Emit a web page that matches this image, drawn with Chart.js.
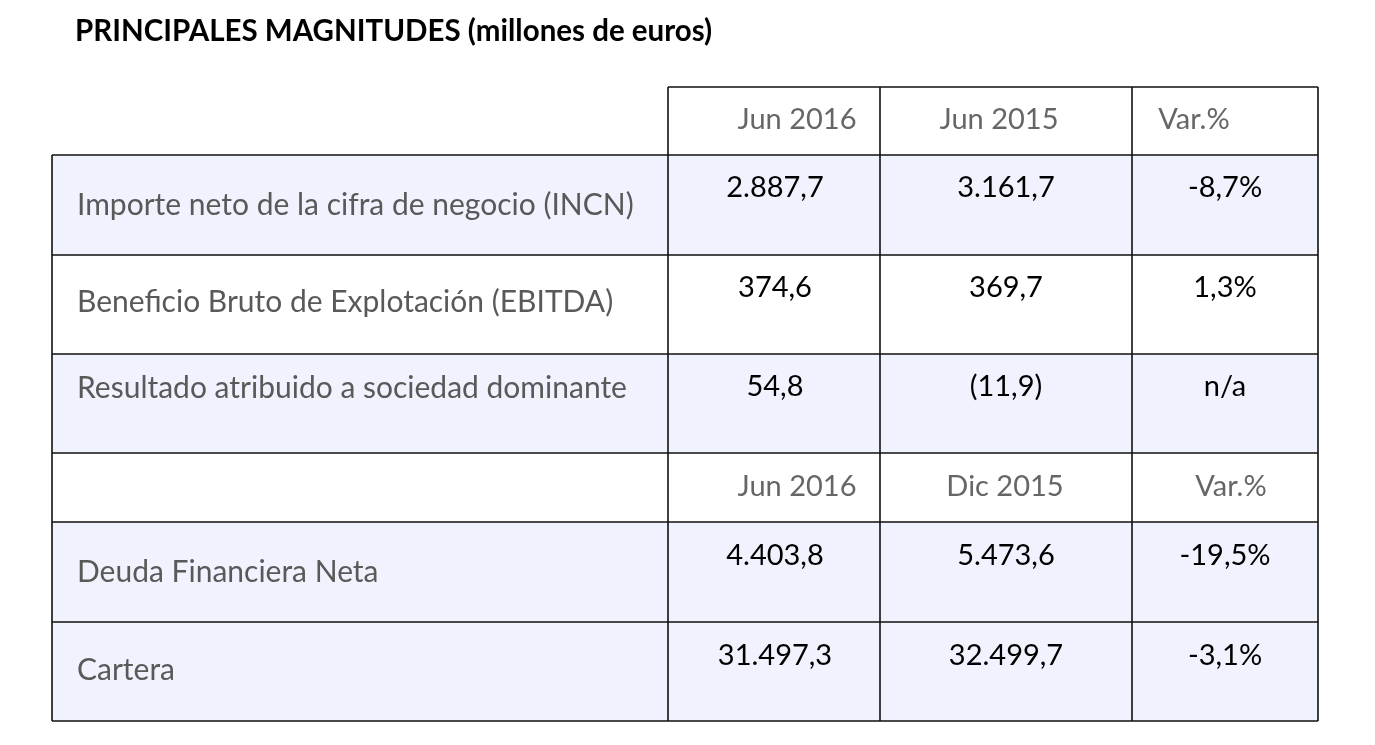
<!DOCTYPE html>
<html lang="es">
<head>
<meta charset="utf-8">
<title>Principales magnitudes</title>
<script src="https://cdn.jsdelivr.net/npm/chart.js@4"></script>
<style>
    html, body { margin: 0; padding: 0; background: #ffffff; }
    canvas { display: block; }
</style>
</head>
<body>
<canvas id="tabla" width="1375" height="745"></canvas>
<script>
// Datos de la tabla (millones de euros)
const title = 'PRINCIPALES MAGNITUDES (millones de euros)';

const headersResultados = ['Jun 2016', 'Jun 2015', 'Var.%'];
const labelsResultados = [
    'Importe neto de la cifra de negocio (INCN)',
    'Beneficio Bruto de Explotación (EBITDA)',
    'Resultado atribuido a sociedad dominante'
];
const actualResultados = [2887.7, 374.6, 54.8];
const anteriorResultados = [3161.7, 369.7, -11.9];
const varResultados = [-8.7, 1.3, null];

const headersBalance = ['Jun 2016', 'Dic 2015', 'Var.%'];
const labelsBalance = ['Deuda Financiera Neta', 'Cartera'];
const actualBalance = [4403.8, 31497.3];
const anteriorBalance = [5473.6, 32499.7];
const varBalance = [-19.5, -3.1];

// Geometría de la tabla en unidades de escala
const colEdges = [52, 668, 880, 1132, 1318];
const rowEdges = [87, 155, 255, 354, 453, 522, 622, 721];
const valueX = [775, 1006, 1225];
const headerX = [[797, 999, 1194], [797, 1005, 1231]];
const shadedRows = [1, 3, 5, 6];

// Formato español: 2.887,7 ; negativos entre paréntesis
function formatAmount(v) {
    const abs = Math.abs(v).toFixed(1).split('.');
    const ent = abs[0].replace(/\B(?=(\d{3})+(?!\d))/g, '.');
    const txt = ent + ',' + abs[1];
    return v < 0 ? '(' + txt + ')' : txt;
}
function formatPct(v) {
    if (v === null) return 'n/a';
    return v.toFixed(1).replace('.', ',') + '%';
}

const FONT = 'Lato, "Open Sans", sans-serif';

const tablePlugin = {
    id: 'tablePlugin',
    afterDraw(chart) {
        const { ctx } = chart;
        const x = chart.scales.x, y = chart.scales.y;
        const px = v => x.getPixelForValue(v);
        const py = v => y.getPixelForValue(v);

        ctx.save();

        // Fondos de filas
        ctx.fillStyle = '#f0f3fd';
        shadedRows.forEach(r => {
            ctx.fillRect(px(colEdges[0]), py(rowEdges[r]), px(colEdges[4]) - px(colEdges[0]), py(rowEdges[r + 1]) - py(rowEdges[r]));
        });

        // Líneas
        ctx.strokeStyle = '#111111';
        ctx.lineWidth = 1.6;
        ctx.beginPath();
        // horizontales
        ctx.moveTo(px(colEdges[1]), py(rowEdges[0]));
        ctx.lineTo(px(colEdges[4]), py(rowEdges[0]));
        for (let r = 1; r < rowEdges.length; r++) {
            ctx.moveTo(px(colEdges[0]), py(rowEdges[r]));
            ctx.lineTo(px(colEdges[4]), py(rowEdges[r]));
        }
        // verticales
        ctx.moveTo(px(colEdges[0]), py(rowEdges[1]));
        ctx.lineTo(px(colEdges[0]), py(rowEdges[7]));
        for (let c = 1; c < colEdges.length; c++) {
            ctx.moveTo(px(colEdges[c]), py(rowEdges[0]));
            ctx.lineTo(px(colEdges[c]), py(rowEdges[7]));
        }
        ctx.stroke();

        // Título
        ctx.textBaseline = 'middle';
        ctx.textAlign = 'left';
        ctx.fillStyle = '#000000';
        ctx.font = 'bold 29.5px ' + FONT;
        ctx.fillText(title, px(75), py(31));

        // Cabeceras
        ctx.font = '29px ' + FONT;
        ctx.fillStyle = '#666666';
        ctx.textAlign = 'center';
        headersResultados.forEach((h, i) => ctx.fillText(h, px(headerX[0][i]), py(120)));
        headersBalance.forEach((h, i) => ctx.fillText(h, px(headerX[1][i]), py(487)));

        // Filas
        const drawRows = (labels, actual, anterior, pct, firstRow, labelY, valueY) => {
            labels.forEach((lab, i) => {
                const r = firstRow + i;
                const top = rowEdges[r];
                ctx.textAlign = 'left';
                ctx.fillStyle = '#595959';
                ctx.font = '30px ' + FONT;
                ctx.fillText(lab, px(77), py(top + labelY[i]));
                ctx.textAlign = 'center';
                ctx.fillStyle = '#000000';
                ctx.font = '29px ' + FONT;
                ctx.fillText(formatAmount(actual[i]), px(valueX[0]), py(top + valueY));
                ctx.fillText(formatAmount(anterior[i]), px(valueX[1]), py(top + valueY));
                ctx.fillText(formatPct(pct[i]), px(valueX[2]), py(top + valueY));
            });
        };
        drawRows(labelsResultados, actualResultados, anteriorResultados, varResultados, 1, [50, 47, 34], 33);
        drawRows(labelsBalance, actualBalance, anteriorBalance, varBalance, 5, [50, 48], 34);

        ctx.restore();
    }
};

new Chart(document.getElementById('tabla').getContext('2d'), {
    type: 'scatter',
    data: { datasets: [{ data: [], pointRadius: 0 }] },
    options: {
        responsive: false,
        animation: false,
        layout: { padding: 0 },
        plugins: { legend: { display: false }, tooltip: { enabled: false } },
        scales: {
            x: { type: 'linear', min: 0, max: 1375, display: false },
            y: { type: 'linear', min: 0, max: 745, reverse: true, display: false }
        }
    },
    plugins: [tablePlugin]
});
</script>
</body>
</html>
